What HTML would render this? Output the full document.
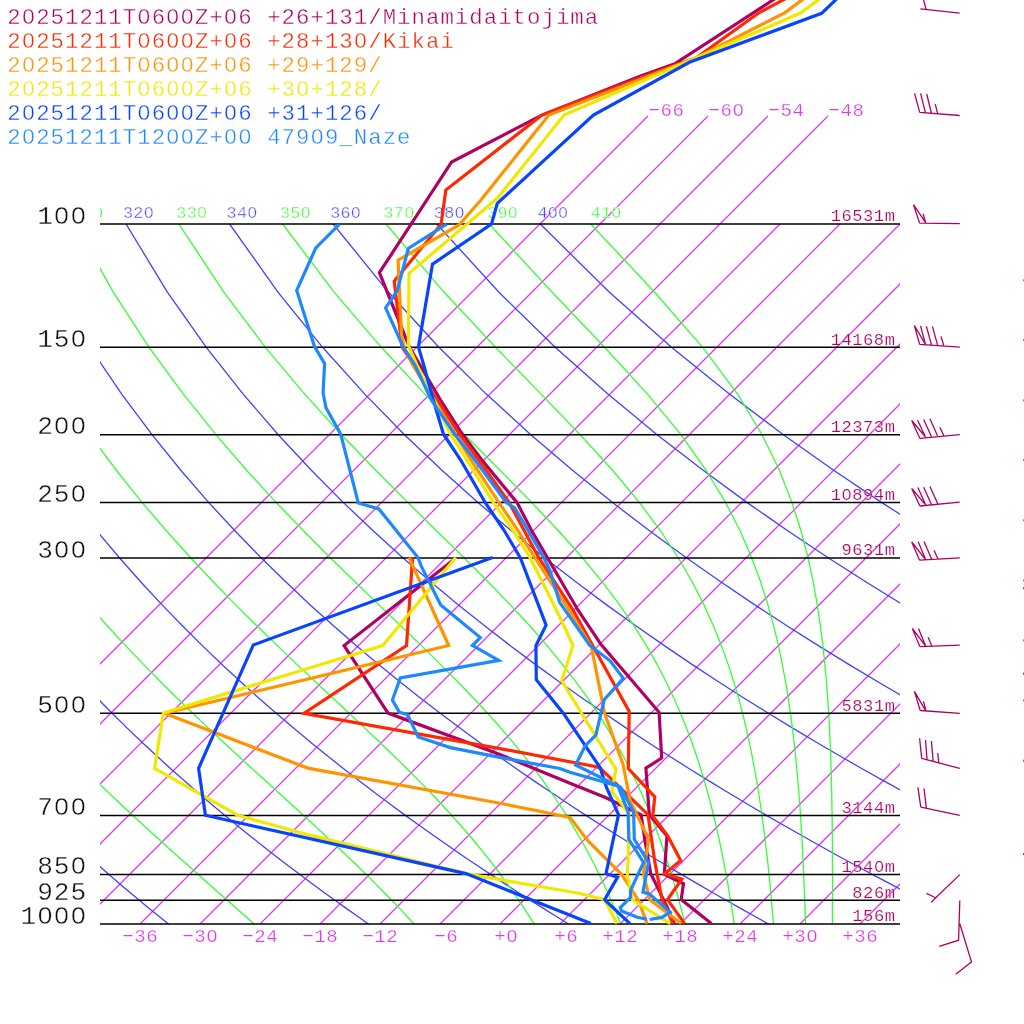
<!DOCTYPE html><html><head><meta charset="utf-8"><style>html,body{margin:0;padding:0;background:#fff;width:1024px;height:1024px;overflow:hidden}svg{display:block;will-change:transform}text{font-family:"Liberation Mono",monospace;stroke:#fff;stroke-width:0.4px;paint-order:fill stroke}</style></head><body>
<svg width="1024" height="1024" viewBox="0 0 1024 1024">
<defs><clipPath id="c"><rect x="100" y="224" width="800" height="700"/></clipPath><clipPath id="c2"><rect x="100" y="100" width="800" height="824"/></clipPath></defs>
<text x="7.3" y="24" font-size="22.4" letter-spacing="1.0" fill="#b00060">20251211T0600Z+06 +26+131/Minamidaitojima</text>
<text x="7.3" y="48" font-size="22.4" letter-spacing="1.0" fill="#ff2800">20251211T0600Z+06 +28+130/Kikai</text>
<text x="7.3" y="72" font-size="22.4" letter-spacing="1.0" fill="#ff9400">20251211T0600Z+06 +29+129/</text>
<text x="7.3" y="96" font-size="22.4" letter-spacing="1.0" fill="#f0e800">20251211T0600Z+06 +30+128/</text>
<text x="7.3" y="120" font-size="22.4" letter-spacing="1.0" fill="#0844ff">20251211T0600Z+06 +31+126/</text>
<text x="7.3" y="144" font-size="22.4" letter-spacing="1.0" fill="#1e88ff">20251211T1200Z+00 47909_Naze</text>
<g clip-path="url(#c2)"><path d="M-160.0,924L648.0,116M-100.0,924L708.0,116M-40.0,924L768.0,116M20.0,924L828.0,116M80.0,924L780.0,224M140.0,924L840.0,224M200.0,924L900.0,224M260.0,924L960.0,224M320.0,924L1020.0,224M380.0,924L1080.0,224M440.0,924L1140.0,224M500.0,924L1200.0,224M560.0,924L1260.0,224M620.0,924L1320.0,224M680.0,924L1380.0,224M740.0,924L1440.0,224M800.0,924L1500.0,224M860.0,924L1560.0,224" stroke="#dc3ce6" stroke-width="1.3" fill="none"/></g>
<text x="648.5" y="116.3" font-size="19.1" letter-spacing="0.53" fill="#dc3ce6" style="stroke-width:0.25px">−66</text>
<text x="708.5" y="116.3" font-size="19.1" letter-spacing="0.53" fill="#dc3ce6" style="stroke-width:0.25px">−60</text>
<text x="768.5" y="116.3" font-size="19.1" letter-spacing="0.53" fill="#dc3ce6" style="stroke-width:0.25px">−54</text>
<text x="828.5" y="116.3" font-size="19.1" letter-spacing="0.53" fill="#dc3ce6" style="stroke-width:0.25px">−48</text>
<g clip-path="url(#c)"><path d="M178.0,931.5L168.5,924.0L158.9,916.3L149.2,908.4L139.3,900.3L129.4,892.0L119.3,883.4L109.0,874.6L98.6,865.5L88.1,856.2L77.4,846.5L66.6,836.5L55.6,826.2L44.4,815.6L33.1,804.5L21.5,793.0L9.8,781.1L-2.1,768.7L-14.2,755.8L-26.6,742.3L-39.2,728.1L-52.0,713.3L-65.0,697.7L-78.3,681.3L-91.9,663.9L-105.7,645.4L-119.9,625.8L-134.3,604.9L-149.0,582.3L-164.0,558.0L-179.3,531.5L-195.0,502.6L-210.8,470.5L-226.9,434.7L-243.0,394.1L-259.0,347.3L-274.4,291.8L-288.4,224.0M379.4,931.5L368.5,924.0L357.5,916.3L346.3,908.4L334.9,900.3L323.4,892.0L311.8,883.4L299.9,874.6L287.9,865.5L275.8,856.2L263.4,846.5L250.8,836.5L238.0,826.2L225.0,815.6L211.8,804.5L198.4,793.0L184.7,781.1L170.7,768.7L156.5,755.8L142.0,742.3L127.2,728.1L112.1,713.3L96.7,697.7L80.9,681.3L64.7,663.9L48.2,645.4L31.3,625.8L13.9,604.9L-3.9,582.3L-22.2,558.0L-41.0,531.5L-60.4,502.6L-80.2,470.5L-100.6,434.7L-121.4,394.1L-142.7,347.3L-164.0,291.8L-184.8,224.0M580.8,931.5L568.5,924.0L556.0,916.3L543.4,908.4L530.5,900.3L517.5,892.0L504.3,883.4L490.9,874.6L477.2,865.5L463.4,856.2L449.3,846.5L435.0,836.5L420.5,826.2L405.7,815.6L390.6,804.5L375.2,793.0L359.5,781.1L343.6,768.7L327.3,755.8L310.6,742.3L293.6,728.1L276.2,713.3L258.4,697.7L240.1,681.3L221.4,663.9L202.1,645.4L182.4,625.8L162.1,604.9L141.1,582.3L119.6,558.0L97.3,531.5L74.2,502.6L50.4,470.5L25.7,434.7L0.1,394.1L-26.4,347.3L-53.6,291.8L-81.2,224.0M782.2,931.5L768.5,924.0L754.6,916.3L740.5,908.4L726.1,900.3L711.6,892.0L696.8,883.4L681.8,874.6L666.5,865.5L651.0,856.2L635.3,846.5L619.2,836.5L602.9,826.2L586.3,815.6L569.3,804.5L552.1,793.0L534.4,781.1L516.4,768.7L498.0,755.8L479.2,742.3L460.0,728.1L440.2,713.3L420.0,697.7L399.3,681.3L378.0,663.9L356.1,645.4L333.5,625.8L310.2,604.9L286.2,582.3L261.3,558.0L235.6,531.5L208.8,502.6L181.0,470.5L152.0,434.7L121.7,394.1L90.0,347.3L56.8,291.8L22.4,224.0M983.6,931.5L968.5,924.0L953.1,916.3L937.5,908.4L921.7,900.3L905.6,892.0L889.3,883.4L872.7,874.6L855.9,865.5L838.7,856.2L821.2,846.5L803.5,836.5L785.4,826.2L766.9,815.6L748.1,804.5L728.9,793.0L709.3,781.1L689.3,768.7L668.8,755.8L647.8,742.3L626.3,728.1L604.3,713.3L581.7,697.7L558.5,681.3L534.6,663.9L510.0,645.4L484.6,625.8L458.4,604.9L431.3,582.3L403.1,558.0L373.9,531.5L343.4,502.6L311.6,470.5L278.2,434.7L243.2,394.1L206.3,347.3L167.2,291.8L126.0,224.0M1185.1,931.5L1168.5,924.0L1151.7,916.3L1134.6,908.4L1117.3,900.3L1099.7,892.0L1081.8,883.4L1063.6,874.6L1045.2,865.5L1026.3,856.2L1007.2,846.5L987.7,836.5L967.8,826.2L947.5,815.6L926.8,804.5L905.7,793.0L884.2,781.1L862.1,768.7L839.5,755.8L816.4,742.3L792.7,728.1L768.4,713.3L743.4,697.7L717.7,681.3L691.2,663.9L664.0,645.4L635.8,625.8L606.6,604.9L576.4,582.3L544.9,558.0L512.2,531.5L478.0,502.6L442.2,470.5L404.5,434.7L364.8,394.1L322.6,347.3L277.7,291.8L229.6,224.0M1386.5,931.5L1368.5,924.0L1350.3,916.3L1331.7,908.4L1312.9,900.3L1293.8,892.0L1274.3,883.4L1254.6,874.6L1234.5,865.5L1214.0,856.2L1193.1,846.5L1171.9,836.5L1150.2,826.2L1128.2,815.6L1105.6,804.5L1082.6,793.0L1059.0,781.1L1034.9,768.7L1010.3,755.8L985.0,742.3L959.1,728.1L932.5,713.3L905.1,697.7L876.9,681.3L847.9,663.9L817.9,645.4L786.9,625.8L754.8,604.9L721.4,582.3L686.7,558.0L650.5,531.5L612.6,502.6L572.8,470.5L530.8,434.7L486.3,394.1L438.9,347.3L388.1,291.8L333.2,224.0M1587.9,931.5L1568.5,924.0L1548.8,916.3L1528.8,908.4L1508.5,900.3L1487.8,892.0L1466.9,883.4L1445.5,874.6L1423.8,865.5L1401.6,856.2L1379.1,846.5L1356.1,836.5L1332.7,826.2L1308.8,815.6L1284.4,804.5L1259.4,793.0L1233.9,781.1L1207.8,768.7L1181.0,755.8L1153.6,742.3L1125.4,728.1L1096.5,713.3L1066.8,697.7L1036.1,681.3L1004.5,663.9L971.8,645.4L938.0,625.8L902.9,604.9L866.5,582.3L828.5,558.0L788.8,531.5L747.2,502.6L703.4,470.5L657.1,434.7L607.9,394.1L555.2,347.3L498.5,291.8L436.8,224.0M1789.3,931.5L1768.5,924.0L1747.4,916.3L1725.9,908.4L1704.1,900.3L1681.9,892.0L1659.4,883.4L1636.4,874.6L1613.1,865.5L1589.3,856.2L1565.0,846.5L1540.3,836.5L1515.1,826.2L1489.4,815.6L1463.1,804.5L1436.2,793.0L1408.8,781.1L1380.6,768.7L1351.8,755.8L1322.2,742.3L1291.8,728.1L1260.6,713.3L1228.4,697.7L1195.3,681.3L1161.1,663.9L1125.8,645.4L1089.1,625.8L1051.1,604.9L1011.6,582.3L970.3,558.0L927.1,531.5L881.8,502.6L834.0,470.5L783.4,434.7L729.4,394.1L671.5,347.3L608.9,291.8L540.3,224.0" stroke="#4040ff" stroke-width="1.3" fill="none"/>
<path d="M262.5,931.5L254.1,924.0L245.5,916.3L236.5,908.4L227.4,900.3L217.9,892.0L208.2,883.4L198.3,874.6L188.1,865.5L177.6,856.2L166.8,846.5L155.8,836.5L144.5,826.2L132.9,815.6L121.0,804.5L108.9,793.0L96.5,781.1L83.8,768.7L70.9,755.8L57.6,742.3L44.1,728.1L30.3,713.3L16.1,697.7L1.7,681.3L-13.1,663.9L-28.3,645.4L-43.8,625.8L-59.6,604.9L-75.9,582.3L-92.5,558.0L-109.5,531.5L-127.0,502.6L-144.8,470.5L-163.0,434.7L-181.4,394.1L-200.0,347.3L-218.3,291.8L-235.7,224.0M420.6,931.5L413.9,924.0L406.9,916.3L399.5,908.4L391.8,900.3L383.7,892.0L375.2,883.4L366.3,874.6L357.0,865.5L347.3,856.2L337.1,846.5L326.4,836.5L315.3,826.2L303.6,815.6L291.5,804.5L278.9,793.0L265.8,781.1L252.2,768.7L238.1,755.8L223.5,742.3L208.4,728.1L192.8,713.3L176.7,697.7L160.1,681.3L143.0,663.9L125.3,645.4L107.2,625.8L88.5,604.9L69.2,582.3L49.3,558.0L28.8,531.5L7.7,502.6L-14.1,470.5L-36.6,434.7L-59.8,394.1L-83.6,347.3L-107.9,291.8L-132.0,224.0M538.6,931.5L534.1,924.0L529.3,916.3L524.2,908.4L518.8,900.3L513.1,892.0L507.1,883.4L500.6,874.6L493.8,865.5L486.4,856.2L478.6,846.5L470.3,836.5L461.4,826.2L451.9,815.6L441.7,804.5L430.9,793.0L419.3,781.1L406.9,768.7L393.7,755.8L379.7,742.3L364.8,728.1L349.1,713.3L332.4,697.7L314.8,681.3L296.4,663.9L277.0,645.4L256.8,625.8L235.7,604.9L213.7,582.3L190.8,558.0L167.0,531.5L142.2,502.6L116.5,470.5L89.7,434.7L61.8,394.1L32.8,347.3L2.6,291.8L-28.4,224.0M623.8,931.5L620.9,924.0L617.8,916.3L614.5,908.4L611.1,900.3L607.4,892.0L603.5,883.4L599.3,874.6L594.8,865.5L590.0,856.2L584.8,846.5L579.2,836.5L573.1,826.2L566.6,815.6L559.5,804.5L551.7,793.0L543.3,781.1L534.1,768.7L524.0,755.8L513.0,742.3L500.9,728.1L487.6,713.3L473.1,697.7L457.2,681.3L439.9,663.9L421.1,645.4L400.8,625.8L378.9,604.9L355.5,582.3L330.6,558.0L304.2,531.5L276.3,502.6L246.8,470.5L215.9,434.7L183.4,394.1L149.1,347.3L113.1,291.8L75.3,224.0M686.8,931.5L685.0,924.0L683.1,916.3L681.0,908.4L678.9,900.3L676.6,892.0L674.1,883.4L671.5,874.6L668.7,865.5L665.7,856.2L662.4,846.5L658.9,836.5L655.0,826.2L650.9,815.6L646.3,804.5L641.3,793.0L635.8,781.1L629.8,768.7L623.1,755.8L615.6,742.3L607.2,728.1L597.9,713.3L587.4,697.7L575.5,681.3L562.0,663.9L546.9,645.4L529.7,625.8L510.3,604.9L488.5,582.3L464.2,558.0L437.3,531.5L407.9,502.6L375.9,470.5L341.5,434.7L304.7,394.1L265.4,347.3L223.6,291.8L178.9,224.0M735.3,931.5L734.2,924.0L733.1,916.3L731.9,908.4L730.6,900.3L729.2,892.0L727.7,883.4L726.1,874.6L724.4,865.5L722.6,856.2L720.6,846.5L718.5,836.5L716.2,826.2L713.6,815.6L710.9,804.5L707.8,793.0L704.4,781.1L700.7,768.7L696.5,755.8L691.8,742.3L686.5,728.1L680.5,713.3L673.7,697.7L665.8,681.3L656.8,663.9L646.3,645.4L634.0,625.8L619.6,604.9L602.6,582.3L582.6,558.0L559.1,531.5L531.8,502.6L500.3,470.5L464.6,434.7L424.9,394.1L381.3,347.3L333.9,291.8L282.6,224.0M774.0,931.5L773.4,924.0L772.8,916.3L772.1,908.4L771.4,900.3L770.7,892.0L769.9,883.4L769.0,874.6L768.1,865.5L767.0,856.2L765.9,846.5L764.7,836.5L763.4,826.2L762.0,815.6L760.4,804.5L758.7,793.0L756.7,781.1L754.5,768.7L752.1,755.8L749.3,742.3L746.2,728.1L742.6,713.3L738.4,697.7L733.6,681.3L728.0,663.9L721.3,645.4L713.4,625.8L704.0,604.9L692.4,582.3L678.4,558.0L661.0,531.5L639.5,502.6L612.8,470.5L580.2,434.7L541.1,394.1L495.5,347.3L443.7,291.8L386.1,224.0M805.7,931.5L805.5,924.0L805.3,916.3L805.0,908.4L804.7,900.3L804.4,892.0L804.0,883.4L803.7,874.6L803.3,865.5L802.8,856.2L802.3,846.5L801.8,836.5L801.2,826.2L800.5,815.6L799.8,804.5L798.9,793.0L797.9,781.1L796.8,768.7L795.6,755.8L794.1,742.3L792.4,728.1L790.5,713.3L788.2,697.7L785.5,681.3L782.2,663.9L778.4,645.4L773.7,625.8L767.9,604.9L760.8,582.3L751.8,558.0L740.4,531.5L725.6,502.6L706.3,470.5L680.9,434.7L647.5,394.1L604.6,347.3L551.7,291.8L489.2,224.0M832.4,931.5L832.4,924.0L832.4,916.3L832.4,908.4L832.4,900.3L832.5,892.0L832.5,883.4L832.5,874.6L832.4,865.5L832.4,856.2L832.4,846.5L832.3,836.5L832.2,826.2L832.1,815.6L831.9,804.5L831.7,793.0L831.4,781.1L831.1,768.7L830.7,755.8L830.1,742.3L829.5,728.1L828.7,713.3L827.7,697.7L826.4,681.3L824.8,663.9L822.9,645.4L820.4,625.8L817.3,604.9L813.3,582.3L808.1,558.0L801.2,531.5L792.0,502.6L779.5,470.5L762.1,434.7L737.6,394.1L702.7,347.3L654.2,291.8L590.7,224.0" stroke="#33ff33" stroke-width="1.3" fill="none"/></g>
<svg x="100" y="190" width="800" height="40">
<text x="-80.6" y="28.1" font-size="16.8" letter-spacing="0.26" fill="#4040ff">300</text>
<text x="-27.3" y="28.1" font-size="16.8" letter-spacing="0.26" fill="#33ff33">310</text>
<text x="23.0" y="28.1" font-size="16.8" letter-spacing="0.26" fill="#4040ff">320</text>
<text x="76.3" y="28.1" font-size="16.8" letter-spacing="0.26" fill="#33ff33">330</text>
<text x="126.6" y="28.1" font-size="16.8" letter-spacing="0.26" fill="#4040ff">340</text>
<text x="179.9" y="28.1" font-size="16.8" letter-spacing="0.26" fill="#33ff33">350</text>
<text x="230.2" y="28.1" font-size="16.8" letter-spacing="0.26" fill="#4040ff">360</text>
<text x="283.5" y="28.1" font-size="16.8" letter-spacing="0.26" fill="#33ff33">370</text>
<text x="333.8" y="28.1" font-size="16.8" letter-spacing="0.26" fill="#4040ff">380</text>
<text x="387.1" y="28.1" font-size="16.8" letter-spacing="0.26" fill="#33ff33">390</text>
<text x="437.4" y="28.1" font-size="16.8" letter-spacing="0.26" fill="#4040ff">400</text>
<text x="490.7" y="28.1" font-size="16.8" letter-spacing="0.26" fill="#33ff33">410</text>
</svg>
<line x1="100" y1="224.01" x2="900" y2="224.01" stroke="#000" stroke-width="1.5"/>
<text x="87" y="223.5" font-size="26.1" letter-spacing="0.94" fill="#111" text-anchor="end">100</text>
<line x1="100" y1="347.28" x2="900" y2="347.28" stroke="#000" stroke-width="1.5"/>
<text x="87" y="346.8" font-size="26.1" letter-spacing="0.94" fill="#111" text-anchor="end">150</text>
<line x1="100" y1="434.73" x2="900" y2="434.73" stroke="#000" stroke-width="1.5"/>
<text x="87" y="434.2" font-size="26.1" letter-spacing="0.94" fill="#111" text-anchor="end">200</text>
<line x1="100" y1="502.57" x2="900" y2="502.57" stroke="#000" stroke-width="1.5"/>
<text x="87" y="502.1" font-size="26.1" letter-spacing="0.94" fill="#111" text-anchor="end">250</text>
<line x1="100" y1="557.99" x2="900" y2="557.99" stroke="#000" stroke-width="1.5"/>
<text x="87" y="557.5" font-size="26.1" letter-spacing="0.94" fill="#111" text-anchor="end">300</text>
<line x1="100" y1="713.28" x2="900" y2="713.28" stroke="#000" stroke-width="1.5"/>
<text x="87" y="712.8" font-size="26.1" letter-spacing="0.94" fill="#111" text-anchor="end">500</text>
<line x1="100" y1="815.57" x2="900" y2="815.57" stroke="#000" stroke-width="1.5"/>
<text x="87" y="815.1" font-size="26.1" letter-spacing="0.94" fill="#111" text-anchor="end">700</text>
<line x1="100" y1="874.59" x2="900" y2="874.59" stroke="#000" stroke-width="1.5"/>
<text x="87" y="874.1" font-size="26.1" letter-spacing="0.94" fill="#111" text-anchor="end">850</text>
<line x1="100" y1="900.30" x2="900" y2="900.30" stroke="#000" stroke-width="1.5"/>
<text x="87" y="899.8" font-size="26.1" letter-spacing="0.94" fill="#111" text-anchor="end">925</text>
<line x1="100" y1="924.00" x2="900" y2="924.00" stroke="#000" stroke-width="1.5"/>
<text x="87" y="923.5" font-size="26.1" letter-spacing="0.94" fill="#111" text-anchor="end">1000</text>
<text x="895.5" y="221.2" font-size="17.1" letter-spacing="0.55" fill="#b00060" text-anchor="end" style="stroke-width:0.2px">16531m</text>
<text x="895.5" y="344.5" font-size="17.1" letter-spacing="0.55" fill="#b00060" text-anchor="end" style="stroke-width:0.2px">14168m</text>
<text x="895.5" y="431.9" font-size="17.1" letter-spacing="0.55" fill="#b00060" text-anchor="end" style="stroke-width:0.2px">12373m</text>
<text x="895.5" y="499.8" font-size="17.1" letter-spacing="0.55" fill="#b00060" text-anchor="end" style="stroke-width:0.2px">10894m</text>
<text x="895.5" y="555.2" font-size="17.1" letter-spacing="0.55" fill="#b00060" text-anchor="end" style="stroke-width:0.2px">9631m</text>
<text x="895.5" y="710.5" font-size="17.1" letter-spacing="0.55" fill="#b00060" text-anchor="end" style="stroke-width:0.2px">5831m</text>
<text x="895.5" y="812.8" font-size="17.1" letter-spacing="0.55" fill="#b00060" text-anchor="end" style="stroke-width:0.2px">3144m</text>
<text x="895.5" y="871.8" font-size="17.1" letter-spacing="0.55" fill="#b00060" text-anchor="end" style="stroke-width:0.2px">1540m</text>
<text x="895.5" y="897.5" font-size="17.1" letter-spacing="0.55" fill="#b00060" text-anchor="end" style="stroke-width:0.2px">826m</text>
<text x="895.5" y="921.2" font-size="17.1" letter-spacing="0.55" fill="#b00060" text-anchor="end" style="stroke-width:0.2px">156m</text>
<text x="140.3" y="942" font-size="19.1" letter-spacing="0.53" fill="#dc3ce6" text-anchor="middle" style="stroke-width:0.25px">−36</text>
<text x="200.3" y="942" font-size="19.1" letter-spacing="0.53" fill="#dc3ce6" text-anchor="middle" style="stroke-width:0.25px">−30</text>
<text x="260.3" y="942" font-size="19.1" letter-spacing="0.53" fill="#dc3ce6" text-anchor="middle" style="stroke-width:0.25px">−24</text>
<text x="320.3" y="942" font-size="19.1" letter-spacing="0.53" fill="#dc3ce6" text-anchor="middle" style="stroke-width:0.25px">−18</text>
<text x="380.3" y="942" font-size="19.1" letter-spacing="0.53" fill="#dc3ce6" text-anchor="middle" style="stroke-width:0.25px">−12</text>
<text x="446.3" y="942" font-size="19.1" letter-spacing="0.53" fill="#dc3ce6" text-anchor="middle" style="stroke-width:0.25px">−6</text>
<text x="506.3" y="942" font-size="19.1" letter-spacing="0.53" fill="#dc3ce6" text-anchor="middle" style="stroke-width:0.25px">+0</text>
<text x="566.3" y="942" font-size="19.1" letter-spacing="0.53" fill="#dc3ce6" text-anchor="middle" style="stroke-width:0.25px">+6</text>
<text x="620.3" y="942" font-size="19.1" letter-spacing="0.53" fill="#dc3ce6" text-anchor="middle" style="stroke-width:0.25px">+12</text>
<text x="680.3" y="942" font-size="19.1" letter-spacing="0.53" fill="#dc3ce6" text-anchor="middle" style="stroke-width:0.25px">+18</text>
<text x="740.3" y="942" font-size="19.1" letter-spacing="0.53" fill="#dc3ce6" text-anchor="middle" style="stroke-width:0.25px">+24</text>
<text x="800.3" y="942" font-size="19.1" letter-spacing="0.53" fill="#dc3ce6" text-anchor="middle" style="stroke-width:0.25px">+30</text>
<text x="860.3" y="942" font-size="19.1" letter-spacing="0.53" fill="#dc3ce6" text-anchor="middle" style="stroke-width:0.25px">+36</text>
<g fill="#fff"><rect x="26.64" y="14.66" width="3.58" height="3.81"/><rect x="142.14" y="14.66" width="3.58" height="3.81"/><rect x="171.02" y="14.66" width="3.58" height="3.81"/><rect x="185.45" y="14.66" width="3.58" height="3.81"/><rect x="228.77" y="14.66" width="3.58" height="3.81"/><rect x="26.64" y="38.66" width="3.58" height="3.81"/><rect x="142.14" y="38.66" width="3.58" height="3.81"/><rect x="171.02" y="38.66" width="3.58" height="3.81"/><rect x="185.45" y="38.66" width="3.58" height="3.81"/><rect x="228.77" y="38.66" width="3.58" height="3.81"/><rect x="358.69" y="38.66" width="3.58" height="3.81"/><rect x="26.64" y="62.66" width="3.58" height="3.81"/><rect x="142.14" y="62.66" width="3.58" height="3.81"/><rect x="171.02" y="62.66" width="3.58" height="3.81"/><rect x="185.45" y="62.66" width="3.58" height="3.81"/><rect x="228.77" y="62.66" width="3.58" height="3.81"/><rect x="26.64" y="86.66" width="3.58" height="3.81"/><rect x="142.14" y="86.66" width="3.58" height="3.81"/><rect x="171.02" y="86.66" width="3.58" height="3.81"/><rect x="185.45" y="86.66" width="3.58" height="3.81"/><rect x="228.77" y="86.66" width="3.58" height="3.81"/><rect x="300.94" y="86.66" width="3.58" height="3.81"/><rect x="26.64" y="110.66" width="3.58" height="3.81"/><rect x="142.14" y="110.66" width="3.58" height="3.81"/><rect x="171.02" y="110.66" width="3.58" height="3.81"/><rect x="185.45" y="110.66" width="3.58" height="3.81"/><rect x="228.77" y="110.66" width="3.58" height="3.81"/><rect x="26.64" y="134.66" width="3.58" height="3.81"/><rect x="171.02" y="134.66" width="3.58" height="3.81"/><rect x="185.45" y="134.66" width="3.58" height="3.81"/><rect x="228.77" y="134.66" width="3.58" height="3.81"/><rect x="243.20" y="134.66" width="3.58" height="3.81"/><rect x="315.38" y="134.66" width="3.58" height="3.81"/><rect x="736.66" y="108.34" width="3.06" height="3.25"/><rect x="147.35" y="211.10" width="2.69" height="2.86"/><rect x="200.65" y="211.10" width="2.69" height="2.86"/><rect x="250.95" y="211.10" width="2.69" height="2.86"/><rect x="304.25" y="211.10" width="2.69" height="2.86"/><rect x="354.55" y="211.10" width="2.69" height="2.86"/><rect x="407.85" y="211.10" width="2.69" height="2.86"/><rect x="458.15" y="211.10" width="2.69" height="2.86"/><rect x="511.45" y="211.10" width="2.69" height="2.86"/><rect x="551.42" y="211.10" width="2.69" height="2.86"/><rect x="561.75" y="211.10" width="2.69" height="2.86"/><rect x="615.05" y="211.10" width="2.69" height="2.86"/><rect x="59.53" y="212.62" width="4.18" height="4.44"/><rect x="76.12" y="212.62" width="4.18" height="4.44"/><rect x="76.12" y="335.92" width="4.18" height="4.44"/><rect x="59.53" y="423.32" width="4.18" height="4.44"/><rect x="76.12" y="423.32" width="4.18" height="4.44"/><rect x="76.12" y="491.22" width="4.18" height="4.44"/><rect x="59.53" y="546.62" width="4.18" height="4.44"/><rect x="76.12" y="546.62" width="4.18" height="4.44"/><rect x="59.53" y="701.92" width="4.18" height="4.44"/><rect x="76.12" y="701.92" width="4.18" height="4.44"/><rect x="59.53" y="804.22" width="4.18" height="4.44"/><rect x="76.12" y="804.22" width="4.18" height="4.44"/><rect x="76.12" y="863.22" width="4.18" height="4.44"/><rect x="42.92" y="912.62" width="4.18" height="4.44"/><rect x="59.51" y="912.62" width="4.18" height="4.44"/><rect x="76.11" y="912.62" width="4.18" height="4.44"/><rect x="845.19" y="492.67" width="2.74" height="2.91"/><rect x="877.63" y="864.67" width="2.74" height="2.91"/><rect x="210.48" y="934.04" width="3.06" height="3.25"/><rect x="510.49" y="934.04" width="3.06" height="3.25"/><rect x="810.48" y="934.04" width="3.06" height="3.25"/></g>
<polyline points="803.8,-20.0 675.5,63.4 640.0,76.3 541.9,115.1 451.6,162.0 379.4,272.7 409.4,347.0 440.5,400.0 462.2,434.0 481.9,460.0 517.1,502.7 531.3,530.0 577.9,610.0 601.1,644.6 659.1,712.3 661.7,758.0 645.9,768.2 649.3,814.7 667.0,835.9 664.3,874.2 683.5,883.7 681.2,899.6 711.3,923.6" stroke="#b00060" stroke-width="3.2" fill="none" stroke-linejoin="miter" stroke-miterlimit="3"/>
<polyline points="453.0,560.2 344.1,645.5 388.0,713.1 500.0,754.5 570.0,783.2 605.5,797.5 641.1,814.7 645.2,842.0 650.7,873.5 667.5,907.9 674.3,923.6" stroke="#b00060" stroke-width="3.2" fill="none" stroke-linejoin="miter" stroke-miterlimit="3"/>
<polyline points="802.0,-10.0 759.3,12.5 695.9,58.0 675.5,65.0 640.0,78.0 541.9,115.1 445.8,190.0 441.1,224.2 394.2,281.2 402.0,347.0 437.0,400.0 459.3,434.0 478.8,460.0 509.2,502.7 523.9,530.0 539.0,558.0 573.0,610.0 629.2,711.4 628.3,768.5 654.8,796.9 652.7,816.0 667.8,835.9 680.7,860.5 664.8,873.7 681.9,879.1 667.5,899.6 684.6,923.6" stroke="#ff2800" stroke-width="3.2" fill="none" stroke-linejoin="miter" stroke-miterlimit="3"/>
<polyline points="412.6,557.6 406.5,645.5 303.9,713.4 500.0,748.6 596.7,766.8 600.1,768.2 648.0,814.7 654.5,860.0 662.0,899.6 673.0,923.6" stroke="#ff2800" stroke-width="3.2" fill="none" stroke-linejoin="miter" stroke-miterlimit="3"/>
<polyline points="815.5,-10.0 784.0,13.3 698.0,57.0 548.9,115.0 480.9,200.0 459.0,225.0 398.1,260.2 401.5,334.4 404.0,347.0 412.8,365.0 470.9,460.0 499.0,502.7 517.6,530.0 535.0,558.0 569.0,610.0 591.5,647.1 604.6,713.2 623.0,764.1 630.2,801.0 648.6,839.3 643.4,873.7 649.7,899.6 681.2,923.6" stroke="#ff9400" stroke-width="3.2" fill="none" stroke-linejoin="miter" stroke-miterlimit="3"/>
<polyline points="409.1,557.6 448.7,645.5 164.4,713.3 307.8,768.1 500.0,803.3 570.0,817.4 587.8,840.7 622.0,874.8 638.8,901.0 647.0,923.6" stroke="#ff9400" stroke-width="3.2" fill="none" stroke-linejoin="miter" stroke-miterlimit="3"/>
<polyline points="832.0,-10.0 800.0,13.3 698.0,57.0 564.1,115.0 497.3,198.3 409.0,273.4 408.3,345.3 416.9,365.0 450.5,434.0 466.8,460.0 493.5,502.7 512.7,530.0 530.3,558.0 556.4,610.0 573.0,645.2 561.7,680.8 616.0,769.4 611.7,791.4 628.8,813.3 628.8,842.0 627.4,874.8 632.0,899.6 670.2,923.6" stroke="#f0e800" stroke-width="3.2" fill="none" stroke-linejoin="miter" stroke-miterlimit="3"/>
<polyline points="455.7,557.6 382.7,645.5 163.4,712.9 154.6,768.3 237.7,815.2 300.0,832.6 466.0,873.6 580.0,893.5 604.6,899.6 616.9,923.6" stroke="#f0e800" stroke-width="3.2" fill="none" stroke-linejoin="miter" stroke-miterlimit="3"/>
<polyline points="846.0,-10.0 821.6,13.3 689.4,62.3 593.4,115.0 497.3,203.4 491.5,224.0 432.5,264.1 418.4,346.9 423.7,365.0 433.3,400.0 443.4,434.0 460.7,460.0 485.3,502.7 503.9,530.0 520.5,558.1 546.1,625.1 535.9,645.6 536.3,679.8 563.3,713.2 600.2,767.7 606.2,786.7 618.5,814.7 606.0,873.7 617.6,877.1 604.6,899.6 629.9,923.6" stroke="#0844ff" stroke-width="3.2" fill="none" stroke-linejoin="miter" stroke-miterlimit="3"/>
<polyline points="492.6,557.6 253.3,644.9 198.6,768.3 205.4,815.2 466.0,873.6 590.9,923.6" stroke="#0844ff" stroke-width="3.2" fill="none" stroke-linejoin="miter" stroke-miterlimit="3"/>
<polyline points="446.6,224.2 408.3,248.4 397.3,290.6 385.6,307.8 403.2,347.0 414.9,365.0 431.3,400.0 454.6,434.0 475.0,460.0 506.5,502.7 514.7,507.8 527.8,530.0 544.0,558.0 549.8,570.0 559.6,602.3 589.6,645.2 610.1,660.8 623.3,678.4 604.2,699.8 595.8,735.1 585.3,745.7 575.6,765.0 620.6,787.3 633.6,812.0 634.3,839.3 648.6,862.5 642.9,892.1 649.7,894.2 670.2,912.0 662.0,917.4 649.7,919.5" stroke="#1e88ff" stroke-width="3.2" fill="none" stroke-linejoin="miter" stroke-miterlimit="3"/>
<polyline points="339.3,224.4 315.8,247.9 296.7,290.4 314.3,346.0 324.6,363.7 323.1,393.0 326.0,407.7 340.7,434.0 358.3,503.0 378.9,508.9 417.9,557.6 421.4,566.4 440.7,605.0 480.3,637.6 472.4,645.5 498.7,660.4 400.3,678.0 392.4,700.0 399.4,712.3 407.4,714.4 418.2,736.9 450.4,747.6 500.0,757.4 559.8,768.5 570.0,772.3 617.9,786.0 628.1,812.0 628.8,839.3 643.5,862.5 630.5,890.5 630.5,897.4 620.3,907.6 621.6,911.0 637.3,917.2 646.9,919.3" stroke="#1e88ff" stroke-width="3.2" fill="none" stroke-linejoin="miter" stroke-miterlimit="3"/>
<path d="M920.3,8.9L959.7,13.1M926.0,9.1L922.0,-6.0M919.7,112.4L959.7,115.5M919.7,112.4L914.6,93.3M925.4,112.6L920.6,93.3M931.4,113.0L926.7,94.0M937.5,113.4L935.3,104.1M919.6,223.1L959.8,223.7M919.6,223.1L913.5,204.7L925.8,222.8M923.2,213.7L925.5,222.5M919.6,344.3L959.8,347.2M919.6,344.3L914.4,325.5L925.5,344.3M920.5,325.8L925.5,344.3M926.4,326.4L931.4,344.6M932.5,326.7L937.5,344.9M941.0,336.4L943.7,345.2M919.9,438.4L959.8,434.6M919.9,438.4L911.7,420.5L925.5,437.0M917.6,420.3L925.5,437.0M923.7,419.4L931.4,436.4M929.9,418.8L937.5,435.8M939.9,427.3L943.7,435.5M919.9,506.0L959.8,502.2M919.9,506.0L911.7,488.5L925.8,505.2M917.9,487.6L925.8,505.2M923.7,487.3L931.4,504.6M929.9,486.4L937.8,503.7M919.6,560.2L959.8,557.8M919.6,560.2L911.7,542.0L925.8,559.9M918.2,541.7L925.8,559.9M924.0,541.4L931.7,559.3M934.0,550.2L937.8,558.7M919.9,646.7L959.8,645.2M919.9,646.7L912.3,628.5L925.5,645.8M918.5,628.5L925.5,645.8M928.1,637.3L931.7,645.8M920.2,710.5L959.8,713.4M920.2,710.5L914.4,691.4L925.8,710.8M923.5,701.4L925.8,709.9M921.7,758.4L959.8,768.4M919.6,738.2L921.7,758.4M925.5,740.0L927.0,759.3M931.4,741.1L933.1,760.8M937.8,753.1L938.7,762.2M920.8,807.2L959.8,815.4M917.9,787.3L920.8,807.2M924.0,788.5L926.4,808.1M959.8,874.6L931.1,902.2M935.2,897.5L926.4,893.4M959.8,900.4L958.6,940.2L939.3,946.4M959.8,923.8L971.5,961.9L955.7,974.2" stroke="#b00060" stroke-width="1.3" fill="none"/>
<rect x="1023" y="279.3" width="1" height="2" fill="#e040e0"/>
<rect x="1023" y="339.2" width="1" height="2" fill="#e040e0"/>
<rect x="1023" y="399.4" width="1" height="2" fill="#e040e0"/>
<rect x="1023" y="459.2" width="1" height="2" fill="#e040e0"/>
<rect x="1023" y="519.3" width="1" height="2" fill="#e040e0"/>
<rect x="1023" y="579.5" width="1" height="2" fill="#e040e0"/>
<rect x="1023" y="587.3" width="1" height="2" fill="#4040ff"/>
<rect x="1023" y="639.4" width="1" height="2" fill="#e040e0"/>
<rect x="1023" y="672.6" width="1" height="2" fill="#4040ff"/>
<rect x="1023" y="699.5" width="1" height="2" fill="#e040e0"/>
<rect x="1023" y="759.7" width="1" height="2" fill="#8040f0"/>
<rect x="1023" y="853.1" width="1" height="2" fill="#4040ff"/>
</svg></body></html>
